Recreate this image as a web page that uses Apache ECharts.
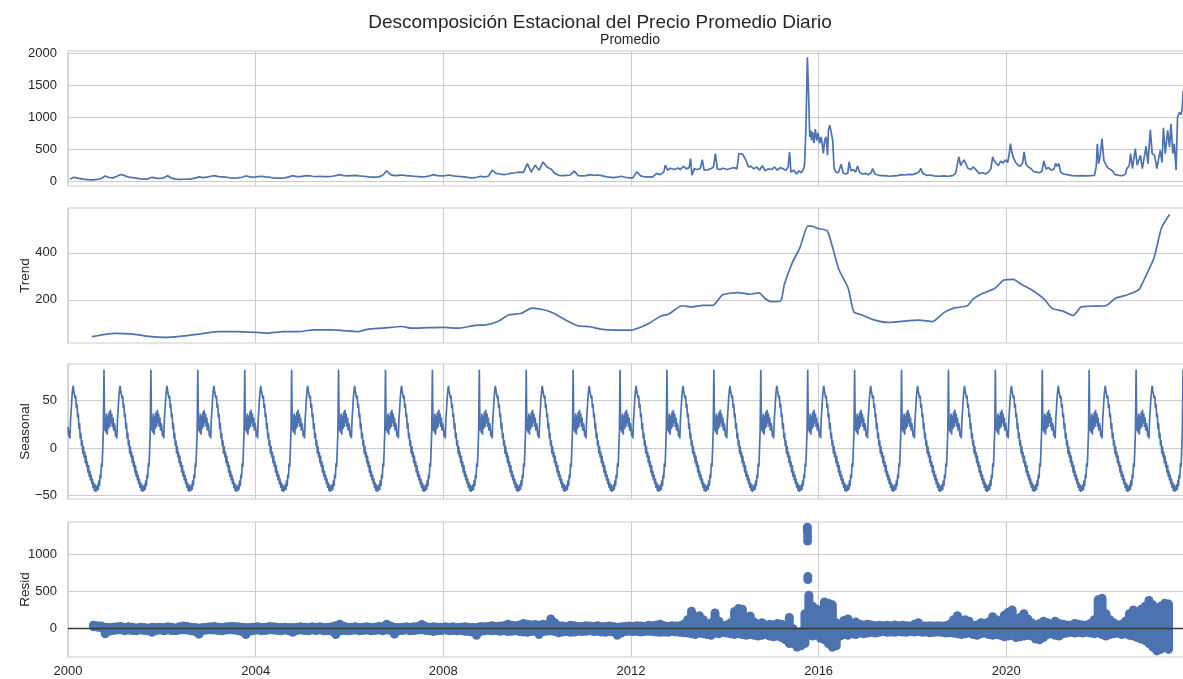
<!DOCTYPE html>
<html>
<head>
<meta charset="utf-8">
<script src="https://cdn.jsdelivr.net/npm/echarts@6/dist/echarts.min.js"></script>
<style>
html,body{margin:0;padding:0;background:#fff;}
#chart{width:1183px;height:679px;}
</style>
</head>
<body>
<div id="chart"></div>
<script>
// ---------------- DATA ----------------
const titleText = 'Descomposición Estacional del Precio Promedio Diario';
const seriesName = 'Promedio';
const panelNames = ['', 'Trend', 'Seasonal', 'Resid'];
const xTicks = [2000, 2004, 2008, 2012, 2016, 2020];
const yTicksObs = [0, 500, 1000, 1500, 2000];
const yTicksTrend = [200, 400];
const yTicksSeasonal = [-50, 0, 50];
const yTicksResid = [0, 500, 1000];

// Observed (monthly, Jan 2000 .. Jun 2012)
const obsMonthly = [
  40, 70, 55, 45, 35, 30, 30, 35, 50, 90, 65, 60,
  85, 113, 95, 70, 65, 55, 45, 40, 45, 70, 55, 50,
  60, 93, 55, 40, 35, 38, 40, 45, 55, 75, 65, 70,
  85, 95, 80, 75, 70, 60, 55, 60, 70, 90, 75, 70,
  80, 85, 75, 70, 60, 55, 55, 60, 75, 95, 80, 80,
  90, 95, 85, 80, 85, 80, 80, 85, 95, 110, 95, 90,
  95, 100, 90, 85, 80, 70, 70, 75, 100, 170, 110, 95,
  100, 105, 95, 90, 85, 80, 75, 80, 90, 110, 95, 90,
  95, 105, 90, 85, 80, 75, 65, 60, 70, 85, 75, 85,
  180, 130, 120, 110, 120, 135, 140, 150, 145, 283, 150, 258,
  180, 309, 230, 200, 130, 100, 95, 100, 105, 165, 95, 90,
  95, 110, 100, 105, 95, 80, 70, 65, 70, 85, 70, 60,
  60, 155, 90, 75, 75, 70
];
// Observed (irregular, mid 2012 onward)
const obsLateT = [
  2012.55, 2012.62, 2012.70, 2012.73, 2012.78, 2012.84, 2012.92, 2013.00, 2013.05, 2013.12,
  2013.18, 2013.24, 2013.27, 2013.30, 2013.35, 2013.42, 2013.48, 2013.52, 2013.56, 2013.62,
  2013.70, 2013.76, 2013.80, 2013.84, 2013.90, 2013.96, 2014.05, 2014.12, 2014.20, 2014.26,
  2014.30, 2014.34, 2014.38, 2014.42, 2014.46, 2014.50, 2014.56, 2014.62, 2014.68, 2014.74,
  2014.80, 2014.86, 2014.92, 2015.00, 2015.06, 2015.12, 2015.18, 2015.25, 2015.30, 2015.35,
  2015.38, 2015.41, 2015.47, 2015.53, 2015.58, 2015.63, 2015.68, 2015.70, 2015.73, 2015.76,
  2015.79, 2015.81, 2015.83, 2015.85, 2015.87, 2015.90, 2015.93, 2015.96, 2015.99, 2016.02,
  2016.05, 2016.08, 2016.10, 2016.13, 2016.16, 2016.19, 2016.21, 2016.24, 2016.27, 2016.30,
  2016.33, 2016.37, 2016.42, 2016.46, 2016.48, 2016.52, 2016.57, 2016.62, 2016.65, 2016.69,
  2016.74, 2016.79, 2016.83, 2016.87, 2016.93, 2017.00, 2017.06, 2017.12, 2017.15, 2017.20,
  2017.28, 2017.36, 2017.44, 2017.52, 2017.60, 2017.68, 2017.76, 2017.84, 2017.92, 2018.00,
  2018.08, 2018.14, 2018.18, 2018.22, 2018.30, 2018.38, 2018.46, 2018.56, 2018.66, 2018.76,
  2018.86, 2018.92, 2018.99, 2019.03, 2019.06, 2019.10, 2019.14, 2019.18, 2019.24, 2019.30,
  2019.36, 2019.42, 2019.50, 2019.56, 2019.62, 2019.67, 2019.71, 2019.74, 2019.78, 2019.83,
  2019.88, 2019.93, 2019.98, 2020.03, 2020.06, 2020.09, 2020.12, 2020.16, 2020.20, 2020.25,
  2020.30, 2020.35, 2020.38, 2020.42, 2020.47, 2020.52, 2020.58, 2020.64, 2020.70, 2020.76,
  2020.80, 2020.85, 2020.90, 2020.96, 2021.02, 2021.05, 2021.09, 2021.12, 2021.16, 2021.22,
  2021.30, 2021.40, 2021.50, 2021.60, 2021.70, 2021.80, 2021.88, 2021.92, 2021.94, 2021.97,
  2022.00, 2022.04, 2022.08, 2022.12, 2022.16, 2022.20, 2022.26, 2022.32, 2022.40, 2022.48,
  2022.54, 2022.57, 2022.62, 2022.65, 2022.69, 2022.75, 2022.79, 2022.86, 2022.90, 2022.98,
  2023.02, 2023.07, 2023.11, 2023.16, 2023.21, 2023.28, 2023.32, 2023.35, 2023.39, 2023.44,
  2023.48, 2023.51, 2023.55, 2023.58, 2023.62, 2023.65, 2023.69, 2023.73, 2023.75, 2023.77
];
const obsLateV = [
  130, 110, 150, 258, 180, 210, 190, 215, 190, 240,
  200, 220, 360, 100, 200, 190, 210, 345, 180, 185,
  200, 230, 438, 200, 190, 210, 190, 206, 220, 200,
  440, 470, 430, 460, 320, 232, 240, 200, 230, 180,
  250, 170, 200, 190, 230, 180, 220, 200, 180, 230,
  464, 150, 180, 120, 170, 140, 200, 258, 850, 1943,
  1263, 700, 800, 650, 780, 600, 820, 640, 760, 600,
  700, 580, 440, 650, 700, 412, 820, 880, 850, 644,
  206, 150, 140, 160, 273, 140, 120, 130, 309, 170,
  190, 150, 247, 150, 120, 130, 110, 140, 206, 120,
  100, 95, 90, 85, 90, 95, 110, 105, 115, 110,
  130, 155, 206, 130, 100, 105, 90, 85, 90, 85,
  95, 130, 387, 250, 300, 340, 280, 210, 190, 230,
  180, 130, 140, 120, 150, 200, 387, 330, 309, 250,
  320, 290, 340, 300, 420, 593, 450, 360, 300, 258,
  240, 300, 464, 270, 230, 210, 160, 150, 140, 160,
  325, 200, 220, 180, 200, 283, 240, 283, 150, 120,
  110, 95, 90, 95, 92, 95, 100, 250, 593, 283,
  400, 670, 330, 300, 220, 200, 170, 110, 100, 95,
  120, 206, 250, 438, 206, 515, 258, 412, 206, 550,
  283, 809, 438, 412, 206, 490, 300, 840, 438, 800,
  540, 902, 438, 593, 180, 1005, 1083, 1046, 1150, 1418
];

// Trend (irregular readings)
const trendT = [
  2000.51, 2000.83, 2000.99, 2001.40, 2001.73, 2002.06, 2002.38, 2002.79, 2003.20, 2003.61,
  2004.00, 2004.26, 2004.59, 2004.91, 2005.24, 2005.65, 2005.89, 2006.18, 2006.38, 2006.71,
  2007.12, 2007.32, 2007.69, 2008.00, 2008.34, 2008.67, 2008.91, 2009.16, 2009.40, 2009.65,
  2009.89, 2010.14, 2010.34, 2010.55, 2010.87, 2011.12, 2011.35, 2011.66, 2012.00, 2012.19,
  2012.39, 2012.64, 2012.80, 2013.09, 2013.30, 2013.54, 2013.75, 2013.95, 2014.28, 2014.53,
  2014.73, 2014.86, 2014.98, 2015.19, 2015.27, 2015.44, 2015.60, 2015.77, 2015.85, 2015.98,
  2016.18, 2016.30, 2016.43, 2016.63, 2016.75, 2016.91, 2017.16, 2017.49, 2017.73, 2018.14,
  2018.43, 2018.67, 2018.88, 2019.17, 2019.29, 2019.50, 2019.75, 2019.95, 2020.15, 2020.32,
  2020.52, 2020.81, 2020.97, 2021.22, 2021.43, 2021.59, 2021.75, 2022.12, 2022.33, 2022.57,
  2022.82, 2022.94, 2023.15, 2023.31, 2023.48
];
const trendV = [
  44, 55, 58, 55, 45, 41, 45, 55, 65, 65,
  62, 59, 65, 65, 73, 73, 69, 65, 75, 80,
  87, 80, 82, 83, 80, 92, 94, 108, 137, 142,
  165, 158, 144, 121, 90, 86, 76, 72, 72, 83,
  101, 132, 139, 175, 170, 177, 177, 221, 231, 224,
  230, 206, 193, 196, 266, 358, 421, 513, 513, 503,
  494, 421, 330, 249, 149, 137, 116, 104, 108, 114,
  108, 146, 165, 175, 203, 228, 248, 284, 287, 266,
  245, 203, 165, 151, 134, 170, 173, 175, 207, 221,
  242, 287, 379, 506, 562
];

// Seasonal: one yearly period, 5-day readings (repeats every year)
const seasonalPeriod = [
  22, 12, 18, 10, 30, 40, 52, 60, 65, 60, 62, 52, 55, 42, 46, 32, 36, 20, 26, 10,
  16, 2, 8, -6, 2, -10, -4, -16, -8, -20, -14, -26, -18, -30, -24, -34, -28, -38, -32, -42,
  -36, -45, -38, -46, -40, -45, -38, -44, -34, -40, -28, -32, -16, -20, -2, 18, 82, 18, 32, 16,
  36, 14, 34, 20, 38, 22, 40, 26, 36, 22, 32, 18, 26
];
const seasonalStart = 2000, seasonalEnd = 2023.98;

// Residual: monthly low/high readings, Jul 2000 .. Jun 2023
const residLo = [
  25, 20, 10, -70, -35, -25,
  -20, -15, -30, -20, -25, -30, -20, -25, -30, -50, -25, -20,
  -30, -20, -25, -30, -20, -15, -20, -30, -40, -75, -30, -20,
  -15, -20, -25, -30, -20, -15, -20, -30, -40, -80, -35, -25,
  -20, -30, -25, -15, -20, -25, -30, -20, -30, -50, -25, -20,
  -25, -30, -20, -25, -20, -30, -25, -35, -80, -30, -25, -30,
  -25, -20, -30, -25, -20, -30, -25, -20, -30, -20, -25, -75,
  -30, -25, -20, -30, -25, -20, -15, -25, -30, -40, -30, -25,
  -20, -30, -25, -30, -25, -35, -40, -45, -90, -40, -30, -25,
  -30, -25, -35, -30, -40, -35, -30, -40, -45, -50, -40, -35,
  -80, -40, -35, -30, -40, -55, -45, -40, -50, -45, -35, -40,
  -35, -30, -40, -35, -45, -50, -40, -45, -90, -60, -40, -35,
  -40, -35, -45, -40, -35, -40, -45, -50, -45, -50, -40, -45,
  -50, -55, -60, -70, -80, -60, -70, -80, -90, -60, -70, -50,
  -60, -70, -80, -70, -80, -90, -80, -90, -100, -90, -80, -100,
  -110, -100, -120, -150, -200, -200, -250, -230, -200, -60, -100, -80,
  -130, -150, -200, -250, -230, -100, -80, -90, -70, -80, -60, -70,
  -60, -50, -60, -50, -40, -50, -45, -50, -40, -45, -50, -40,
  -45, -40, -50, -45, -55, -50, -45, -50, -60, -55, -60, -70,
  -80, -70, -60, -80, -90, -70, -60, -80, -90, -80, -90, -110,
  -100, -90, -120, -110, -100, -90, -100, -140, -150, -120, -80, -70,
  -90, -100, -70, -60, -50, -60, -50, -60, -50, -60, -70, -60,
  -80, -100, -80, -70, -60, -80, -70, -90, -100, -120, -140, -160,
  -200, -250, -300, -280, -200, -280
];
const residHi = [
  45, 40, 35, 20, 15, 20,
  25, 30, 15, 25, 20, 10, 20, 15, 10, 20, 15, 20,
  15, 25, 20, 10, 25, 35, 30, 20, 15, 10, 15, 20,
  25, 30, 20, 15, 25, 30, 30, 25, 20, 15, 15, 20,
  25, 15, 20, 30, 25, 20, 15, 20, 15, 15, 20, 25,
  20, 15, 25, 20, 25, 15, 20, 25, 40, 60, 35, 20,
  20, 25, 15, 20, 25, 15, 20, 30, 25, 60, 35, 20,
  15, 20, 25, 20, 25, 30, 55, 30, 20, 25, 20, 20,
  25, 20, 25, 15, 20, 25, 20, 15, 15, 30, 25, 30,
  40, 30, 35, 40, 60, 45, 40, 50, 70, 60, 50, 55,
  45, 60, 50, 130, 80, 40, 35, 30, 45, 40, 30, 30,
  40, 35, 30, 40, 25, 30, 35, 30, 20, 25, 30, 35,
  30, 40, 35, 30, 45, 40, 50, 60, 40, 30, 40, 35,
  40, 60, 120, 235, 60, 175, 120, 60, 80, 210, 100, 40,
  50, 80, 230, 270, 260, 150, 170, 90, 60, 80, 50, 60,
  50, 70, 60, 40, 150, 0, -80, -40, 200, 450, 300, 260,
  250, 360, 340, 320, 80, 60, 110, 130, 70, 90, 60, 50,
  60, 50, 40, 45, 40, 45, 40, 50, 40, 45, 40, 35,
  60, 80, 40, 35, 40, 35, 40, 35, 40, 60, 120, 175,
  110, 120, 100, 40, 50, 80, 70, 90, 160, 120, 100, 180,
  220, 250, 120, 150, 200, 130, 80, 40, 70, 100, 80, 60,
  100, 70, 60, 50, 45, 70, 60, 50, 45, 70, 120, 390,
  410, 200, 120, 80, 50, 60, 100, 200, 250, 220, 260, 300,
  380, 320, 200, 300, 340, 330
];
const residStart = 2000.5;
// isolated residual points (autumn 2015 spike)
const residOutT = [2015.76, 2015.76, 2015.762, 2015.765, 2015.765, 2015.77, 2015.77];
const residOutV = [1365, 1330, 1290, 1235, 1180, 700, 660];

// ---------------- BUILD ----------------
const FONT = "'Liberation Sans', Arial, Helvetica, sans-serif";
const BLUE = '#4C72B0';
const GRIDC = '#cccccc';
const TXT = '#262626';
const X_MIN = 2000, X_MAX = 2023.98;

const obsData = obsMonthly.map((v, i) => [2000 + (i + 0.5) / 12, v])
  .concat(obsLateT.map((t, i) => [t, obsLateV[i]]));
const trendData = trendT.map((t, i) => [t, trendV[i]]);
const seasonalData = [];
(function () {
  const n = seasonalPeriod.length;
  for (let y = 0; y < 30; y++) {
    for (let k = 0; k < n; k++) {
      const t = seasonalStart + y + k / n;
      if (t > seasonalEnd) return;
      seasonalData.push([t, seasonalPeriod[k]]);
    }
  }
})();
const residData = residLo.map((lo, i) => [residStart + (i + 0.5) / 12, lo, residHi[i]]);
const residOut = residOutT.map((t, i) => [t, residOutV[i]]);

const tops = [51, 208, 364, 522];
const H = 135;
const yRanges = [[-67, 2040], [17, 590], [-53.5, 88], [-382, 1435]];
const yTicks = [yTicksObs, yTicksTrend, yTicksSeasonal, yTicksResid];

const fmtNum = v => (v < 0 ? '\u2212' + Math.abs(v) : String(v));

const option = {
  animation: false,
  backgroundColor: '#ffffff',
  title: [
    { text: titleText, left: 600, top: 13, textAlign: 'center', padding: 0,
      textStyle: { fontFamily: FONT, fontSize: 19, fontWeight: 'normal', color: TXT } },
    { text: seriesName, left: 630, top: 33, textAlign: 'center', padding: 0,
      textStyle: { fontFamily: FONT, fontSize: 14, fontWeight: 'normal', color: TXT } }
  ],
  grid: tops.map(t => ({ left: 68, right: -10, top: t, height: H, show: true,
    outerBoundsMode: 'none',
    borderColor: GRIDC, borderWidth: 1.2, backgroundColor: 'transparent', containLabel: false })),
  xAxis: tops.map((t, i) => ({
    type: 'value', gridIndex: i, min: X_MIN, max: X_MAX, interval: 4,
    axisLine: { show: false }, axisTick: { show: false },
    splitLine: { show: true, lineStyle: { color: GRIDC, width: 1 } },
    axisLabel: { show: i === 3, margin: 8, fontSize: 13, fontFamily: FONT, color: TXT,
      customValues: xTicks, formatter: v => String(Math.round(v)) }
  })),
  yAxis: tops.map((t, i) => ({
    type: 'value', gridIndex: i, min: yRanges[i][0], max: yRanges[i][1],
    name: panelNames[i], nameLocation: 'middle', nameGap: 36, nameRotate: 90,
    nameMoveOverlap: false,
    nameTextStyle: { fontFamily: FONT, fontSize: 13.5, color: TXT },
    axisLine: { show: false },
    axisTick: { show: false, customValues: yTicks[i] },
    splitLine: { show: true, lineStyle: { color: GRIDC, width: 1 } },
    axisLabel: { margin: 11, fontSize: 13, fontFamily: FONT, color: TXT,
      customValues: yTicks[i], formatter: fmtNum }
  })),
  series: [
    { type: 'line', xAxisIndex: 0, yAxisIndex: 0, data: obsData, showSymbol: false, symbol: 'none',
      lineStyle: { color: BLUE, width: 1.7 }, z: 3 },
    { type: 'line', xAxisIndex: 1, yAxisIndex: 1, data: trendData, showSymbol: false, symbol: 'none',
      smooth: 0.2, lineStyle: { color: BLUE, width: 1.7 }, z: 3 },
    { type: 'line', xAxisIndex: 2, yAxisIndex: 2, data: seasonalData, showSymbol: false, symbol: 'none',
      lineStyle: { color: BLUE, width: 1.7 }, z: 3 },
    { type: 'scatter', xAxisIndex: 3, yAxisIndex: 3, data: residOut, symbolSize: 9,
      itemStyle: { color: BLUE, opacity: 1 }, z: 2,
      markLine: { silent: true, symbol: 'none', label: { show: false },
        lineStyle: { color: '#3a3a3a', width: 1.4, type: 'solid' }, data: [{ yAxis: 0 }] } },
    { type: 'custom', xAxisIndex: 3, yAxisIndex: 3, data: residData, encode: { x: 0, y: [1, 2] }, z: 3,
      renderItem: function (params, api) {
        const t = api.value(0), lo = api.value(1), hi = api.value(2);
        const p1 = api.coord([t, lo]);
        const p2 = api.coord([t, hi]);
        return { type: 'line', shape: { x1: p1[0], y1: p1[1], x2: p2[0], y2: p2[1] + 0.01 },
          style: { stroke: BLUE, lineWidth: 9, lineCap: 'round' } };
      } }
  ]
};

const chart = echarts.init(document.getElementById('chart'), null, { renderer: 'canvas' });
chart.setOption(option);
</script>
</body>
</html>
